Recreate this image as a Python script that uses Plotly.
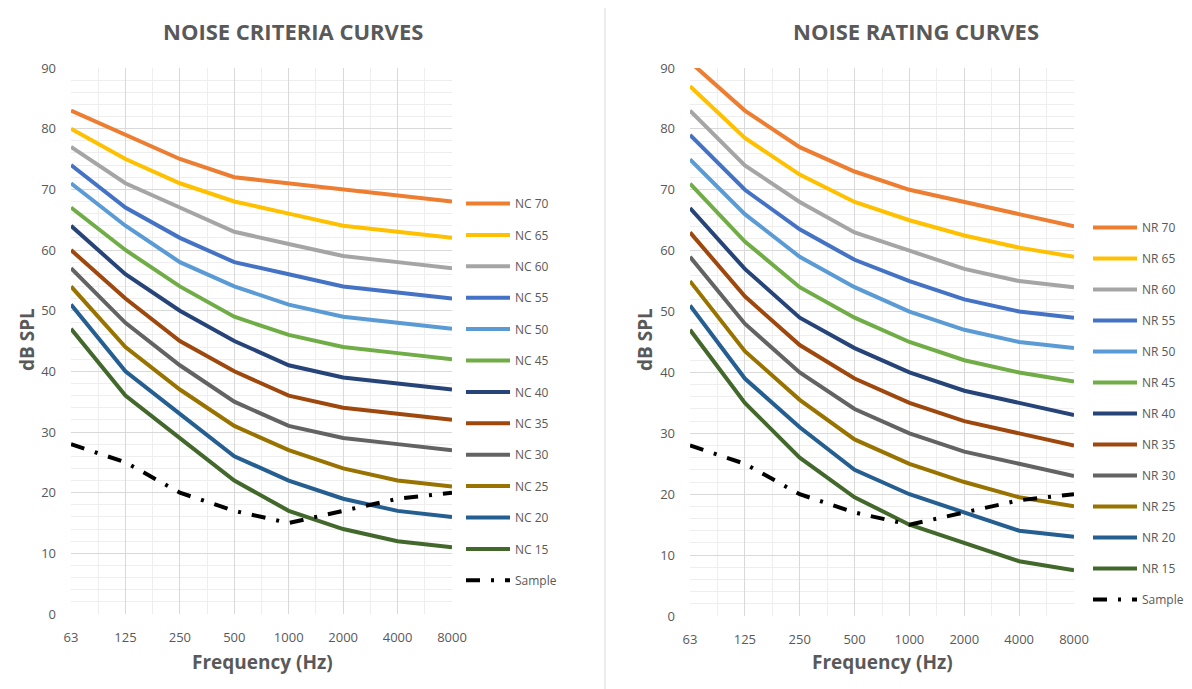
import plotly.graph_objects as go

# ──────────────────────────────────────────────────────────────
# Data
# ──────────────────────────────────────────────────────────────
FREQS = ["63", "125", "250", "500", "1000", "2000", "4000", "8000"]
Y_TICKS = [0, 10, 20, 30, 40, 50, 60, 70, 80, 90]

# Noise Criteria curves (dB SPL per octave band)
nc70 = [83, 79, 75, 72, 71, 70, 69, 68]
nc65 = [80, 75, 71, 68, 66, 64, 63, 62]
nc60 = [77, 71, 67, 63, 61, 59, 58, 57]
nc55 = [74, 67, 62, 58, 56, 54, 53, 52]
nc50 = [71, 64, 58, 54, 51, 49, 48, 47]
nc45 = [67, 60, 54, 49, 46, 44, 43, 42]
nc40 = [64, 56, 50, 45, 41, 39, 38, 37]
nc35 = [60, 52, 45, 40, 36, 34, 33, 32]
nc30 = [57, 48, 41, 35, 31, 29, 28, 27]
nc25 = [54, 44, 37, 31, 27, 24, 22, 21]
nc20 = [51, 40, 33, 26, 22, 19, 17, 16]
nc15 = [47, 36, 29, 22, 17, 14, 12, 11]

# Noise Rating curves
nr70 = [91, 83, 77, 73, 70, 68, 66, 64]
nr65 = [87, 78.5, 72.5, 68, 65, 62.5, 60.5, 59]
nr60 = [83, 74, 68, 63, 60, 57, 55, 54]
nr55 = [79, 70, 63.5, 58.5, 55, 52, 50, 49]
nr50 = [75, 66, 59, 54, 50, 47, 45, 44]
nr45 = [71, 61.5, 54, 49, 45, 42, 40, 38.5]
nr40 = [67, 57, 49, 44, 40, 37, 35, 33]
nr35 = [63, 52.5, 44.5, 39, 35, 32, 30, 28]
nr30 = [59, 48, 40, 34, 30, 27, 25, 23]
nr25 = [55, 43.5, 35.5, 29, 25, 22, 19.5, 18]
nr20 = [51, 39, 31, 24, 20, 17, 14, 13]
nr15 = [47, 35, 26, 19.5, 15, 12, 9, 7.5]

sample = [28, 25, 20, 17, 15, 17, 19, 20]

LEVELS = [70, 65, 60, 55, 50, 45, 40, 35, 30, 25, 20, 15]
NC_CURVES = [nc70, nc65, nc60, nc55, nc50, nc45, nc40, nc35, nc30, nc25, nc20, nc15]
NR_CURVES = [nr70, nr65, nr60, nr55, nr50, nr45, nr40, nr35, nr30, nr25, nr20, nr15]

COLORS = [
    "#ED7D31", "#FFC000", "#A5A5A5", "#4472C4", "#5B9BD5", "#70AD47",
    "#264478", "#9E480E", "#636363", "#997300", "#255E91", "#43682B",
]

TEXT_GRAY = "#595959"
FONT = "Open Sans"
W, H = 1192, 689
PAGE_OFFSET = 8  # the page body margin shifts the figure by this much

X_POS = list(range(len(FREQS)))


def px_x(v):
    return (v - PAGE_OFFSET) / W


def px_y(v):
    return 1 - (v - PAGE_OFFSET) / H


fig = go.Figure()


def add_panel(curves, prefix, xref, yref, legend):
    for level, vals, color in zip(LEVELS, curves, COLORS):
        fig.add_trace(go.Scatter(
            x=X_POS, y=vals, mode="lines",
            name=f"{prefix} {level}",
            line=dict(color=color, width=4),
            xaxis=xref, yaxis=yref, legend=legend,
            legendgroup=f"{prefix}{level}",
        ))
    fig.add_trace(go.Scatter(
        x=X_POS, y=sample, mode="lines", name="Sample",
        line=dict(color="black", width=4, dash="14px,11px,3px,11px"),
        xaxis=xref, yaxis=yref, legend=legend,
        legendgroup=f"{prefix}sample",
    ))


add_panel(NC_CURVES, "NC", "x", "y", "legend")
add_panel(NR_CURVES, "NR", "x2", "y2", "legend2")

xaxis_style = dict(
    range=[0, len(FREQS) - 1],
    tickvals=X_POS, ticktext=FREQS,
    showgrid=True, gridcolor="#D9D9D9", gridwidth=1,
    minor=dict(dtick=0.5, tick0=0, showgrid=True, gridcolor="#EEEEEE"),
    zeroline=False, showline=False, fixedrange=True, automargin=False,
    tickfont=dict(family=FONT, size=13, color=TEXT_GRAY),
    ticklabelstandoff=14,
)
yaxis_style = dict(
    range=[0, 90], tickvals=Y_TICKS,
    showgrid=True, gridcolor="#D9D9D9", gridwidth=1,
    minor=dict(dtick=2, tick0=0, showgrid=True, gridcolor="#EEEEEE"),
    zeroline=False, showline=False, fixedrange=True, automargin=False,
    tickfont=dict(family=FONT, size=13, color=TEXT_GRAY),
    ticklabelstandoff=14,
)

legend_style = dict(
    bgcolor="rgba(0,0,0,0)",
    font=dict(family=FONT, size=12, color=TEXT_GRAY),
    traceorder="grouped",
    itemwidth=44, xanchor="left", yanchor="top",
)

fig.update_layout(
    width=W, height=H,
    margin=dict(l=0, r=0, t=0, b=0, autoexpand=False),
    plot_bgcolor="white", paper_bgcolor="white",
    xaxis=dict(domain=[px_x(71), px_x(452)], anchor="y", **xaxis_style),
    yaxis=dict(domain=[px_y(614), px_y(68)], anchor="x", **yaxis_style),
    xaxis2=dict(domain=[px_x(690), px_x(1074)], anchor="y2", **xaxis_style),
    yaxis2=dict(domain=[px_y(616), px_y(68)], anchor="x2", **yaxis_style),
    legend=dict(x=px_x(461), y=px_y(189), tracegroupgap=12.4, **legend_style),
    legend2=dict(x=px_x(1088), y=px_y(213), tracegroupgap=12.0, **legend_style),
    showlegend=True,
)

title_font = dict(family=FONT, size=22, color=TEXT_GRAY, weight="bold")
axis_font = dict(family=FONT, size=19, color=TEXT_GRAY, weight="bold")

annotations = [
    ("NOISE CRITERIA CURVES", 293, 31, 0, title_font),
    ("NOISE RATING CURVES", 916, 31, 0, title_font),
    ("Frequency (Hz)", 262, 662, 0, axis_font),
    ("Frequency (Hz)", 882, 662, 0, axis_font),
    ("dB SPL", 27, 340, -90, axis_font),
    ("dB SPL", 645, 340, -90, axis_font),
]
for text, ax, ay, angle, font in annotations:
    fig.add_annotation(
        text=text, x=px_x(ax), y=px_y(ay), xref="paper", yref="paper",
        showarrow=False, textangle=angle, font=font,
        xanchor="center", yanchor="middle",
    )

# divider between the two charts
fig.add_shape(
    type="line", xref="paper", yref="paper",
    x0=px_x(605), x1=px_x(605), y0=px_y(8), y1=px_y(689),
    line=dict(color="#D9D9D9", width=1),
)

fig.write_html("out.html")
